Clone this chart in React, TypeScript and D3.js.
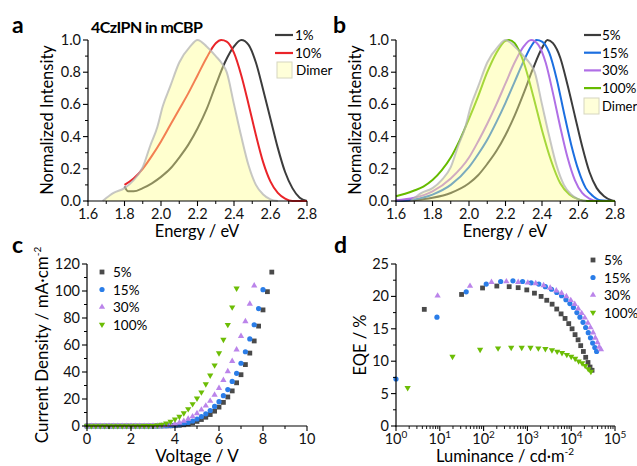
import React from "react";
import * as d3 from "d3";

const FONT = "Lato, 'Open Sans', sans-serif";

// ---------- Panel a: PL spectra (4CzIPN in mCBP) ----------
const dimerE = [1.68, 1.74, 1.8, 1.85, 1.9, 1.94, 1.98, 2.01, 2.05, 2.1, 2.16, 2.2, 2.25, 2.3, 2.33, 2.36, 2.4, 2.44, 2.48, 2.52, 2.56, 2.6, 2.64];
const dimerI = [0, 0.05, 0.08, 0.13, 0.21, 0.34, 0.46, 0.59, 0.71, 0.86, 0.96, 1.0, 0.96, 0.9, 0.86, 0.8, 0.6, 0.4, 0.22, 0.1, 0.04, 0.01, 0];

const a1E = [1.8, 1.82, 1.85, 1.9, 1.95, 2.0, 2.05, 2.1, 2.15, 2.2, 2.25, 2.3, 2.35, 2.4, 2.44, 2.48, 2.52, 2.56, 2.6, 2.64, 2.68, 2.72, 2.76, 2.8];
const a1I = [0.09, 0.06, 0.06, 0.08, 0.11, 0.15, 0.2, 0.27, 0.35, 0.45, 0.57, 0.72, 0.86, 0.96, 1.0, 0.97, 0.86, 0.69, 0.51, 0.33, 0.18, 0.08, 0.02, 0.0];
const a10E = [1.8, 1.85, 1.9, 1.95, 2.0, 2.05, 2.1, 2.15, 2.2, 2.25, 2.3, 2.33, 2.36, 2.4, 2.44, 2.48, 2.52, 2.56, 2.6, 2.64, 2.68, 2.72, 2.8];
const a10I = [0.1, 0.14, 0.2, 0.28, 0.37, 0.47, 0.57, 0.67, 0.78, 0.89, 0.98, 1.0, 0.99, 0.92, 0.78, 0.6, 0.41, 0.24, 0.12, 0.05, 0.015, 0.0, 0.0];

// ---------- Panel b: PL spectra vs doping ----------
const b5E = [1.6, 1.7, 1.8, 1.9, 2.0, 2.05, 2.1, 2.15, 2.2, 2.25, 2.3, 2.35, 2.4, 2.43, 2.46, 2.5, 2.54, 2.58, 2.62, 2.66, 2.7, 2.74, 2.78, 2.8];
const b5I = [0, 0.005, 0.02, 0.05, 0.11, 0.16, 0.23, 0.31, 0.41, 0.53, 0.67, 0.82, 0.95, 1.0, 0.98, 0.89, 0.72, 0.53, 0.34, 0.18, 0.08, 0.03, 0.005, 0];
const b15E = [1.6, 1.7, 1.8, 1.9, 2.0, 2.05, 2.1, 2.15, 2.2, 2.25, 2.3, 2.34, 2.37, 2.4, 2.44, 2.48, 2.52, 2.56, 2.6, 2.64, 2.68, 2.72, 2.8];
const b15I = [0, 0.01, 0.04, 0.1, 0.21, 0.29, 0.38, 0.49, 0.61, 0.74, 0.87, 0.96, 1.0, 0.99, 0.92, 0.76, 0.55, 0.35, 0.19, 0.08, 0.03, 0.005, 0];
const b30E = [1.6, 1.7, 1.8, 1.9, 2.0, 2.05, 2.1, 2.15, 2.2, 2.25, 2.3, 2.34, 2.38, 2.42, 2.46, 2.5, 2.54, 2.58, 2.62, 2.66, 2.7, 2.8];
const b30I = [0.005, 0.02, 0.06, 0.14, 0.27, 0.37, 0.48, 0.6, 0.73, 0.86, 0.96, 1.0, 0.97, 0.86, 0.67, 0.46, 0.27, 0.13, 0.05, 0.015, 0, 0];
const b100E = [1.6, 1.65, 1.7, 1.75, 1.8, 1.85, 1.9, 1.95, 2.0, 2.05, 2.1, 2.15, 2.2, 2.22, 2.25, 2.3, 2.35, 2.4, 2.45, 2.5, 2.55, 2.6, 2.65, 2.8];
const b100I = [0.03, 0.045, 0.065, 0.09, 0.13, 0.19, 0.27, 0.38, 0.51, 0.65, 0.8, 0.92, 0.995, 1.0, 0.98, 0.86, 0.66, 0.44, 0.25, 0.11, 0.04, 0.01, 0, 0];

// ---------- Panel c: J-V ----------
const v5 = [0, 0.2, 0.4, 0.6, 0.8, 1, 1.2, 1.4, 1.6, 1.8, 2, 2.2, 2.4, 2.6, 2.8, 3, 3.2, 3.4, 3.6, 3.8, 4, 4.2, 4.4, 4.6, 4.8, 5, 5.2, 5.4, 5.6, 5.8, 6, 6.2, 6.4, 6.6, 6.8, 7, 7.2, 7.4, 7.6, 7.8, 8, 8.2, 8.4];
const j5 = [0, 0, 0, 0, 0, 0, 0, 0, 0, 0, 0, 0, 0, 0, 0, 0, 0.02, 0.05, 0.1, 0.15, 0.25, 0.5, 0.9, 1.5, 2.3, 3.4, 4.8, 6.5, 8.5, 11, 14, 17.5, 21.5, 26, 32, 38, 45.5, 54, 63, 74, 86, 99.5, 114];
const v15 = [0, 0.2, 0.4, 0.6, 0.8, 1, 1.2, 1.4, 1.6, 1.8, 2, 2.2, 2.4, 2.6, 2.8, 3, 3.2, 3.4, 3.6, 3.8, 4, 4.2, 4.4, 4.6, 4.8, 5, 5.2, 5.4, 5.6, 5.8, 6, 6.2, 6.4, 6.6, 6.8, 7, 7.2, 7.4, 7.6, 7.8, 8];
const j15 = [0, 0, 0, 0, 0, 0, 0, 0, 0, 0, 0, 0, 0, 0, 0, 0, 0.05, 0.1, 0.18, 0.3, 0.6, 1.0, 1.7, 2.6, 3.7, 5.2, 7, 9, 11.5, 14.5, 18, 22.5, 27, 33, 39, 46.5, 55, 64.5, 75, 87, 101];
const v30 = [0, 0.2, 0.4, 0.6, 0.8, 1, 1.2, 1.4, 1.6, 1.8, 2, 2.2, 2.4, 2.6, 2.8, 3, 3.2, 3.4, 3.6, 3.8, 4, 4.2, 4.4, 4.6, 4.8, 5, 5.2, 5.4, 5.6, 5.8, 6, 6.2, 6.4, 6.6, 6.8, 7, 7.2, 7.4, 7.6];
const j30 = [0, 0, 0, 0, 0, 0, 0, 0, 0, 0, 0, 0, 0, 0, 0, 0.05, 0.12, 0.25, 0.5, 0.9, 1.6, 2.5, 3.7, 5.2, 7, 9.3, 12, 15, 18.5, 23, 28, 34, 40.5, 48, 56.5, 66.5, 77.5, 90.5, 104];
const v100 = [0, 0.2, 0.4, 0.6, 0.8, 1, 1.2, 1.4, 1.6, 1.8, 2, 2.2, 2.4, 2.6, 2.8, 3, 3.2, 3.4, 3.6, 3.8, 4, 4.2, 4.4, 4.6, 4.8, 5, 5.2, 5.4, 5.6, 5.8, 6, 6.2, 6.4, 6.6, 6.8];
const j100 = [0, 0, 0, 0, 0, 0, 0, 0, 0, 0, 0, 0, 0.02, 0.05, 0.1, 0.2, 0.5, 1.1, 2, 3.3, 5, 7, 9.5, 12.6, 16.3, 20.5, 25, 31, 37.5, 45, 54, 64, 75, 88, 102];

// ---------- Panel d: EQE vs luminance (log10 L, EQE %) ----------
const d5L = [0.646, 1.497, 1.976, 2.302, 2.584, 2.789, 2.986, 3.161, 3.313, 3.442, 3.564, 3.67, 3.769, 3.86, 3.944, 4.02, 4.088, 4.157, 4.217, 4.278, 4.331, 4.384, 4.43, 4.476];
const d5E = [18.0, 20.3, 21.3, 21.6, 21.5, 21.35, 21.0, 20.5, 20.0, 19.4, 18.8, 18.05, 17.3, 16.6, 15.8, 15.0, 14.1, 13.3, 12.4, 11.5, 10.6, 9.8, 9.1, 8.6];
const d15L = [0.0, 0.935, 1.603, 2.06, 2.39, 2.67, 2.89, 3.085, 3.26, 3.41, 3.55, 3.67, 3.78, 3.88, 3.97, 4.05, 4.13, 4.2, 4.27, 4.33, 4.39, 4.44, 4.49, 4.54, 4.58];
const d15E = [7.25, 16.8, 20.7, 21.9, 22.3, 22.4, 22.3, 22.1, 21.9, 21.5, 21.1, 20.6, 20.1, 19.5, 18.9, 18.3, 17.5, 16.8, 16.0, 15.2, 14.4, 13.6, 12.8, 12.1, 11.5];
const d30L = [0.95, 1.69, 2.18, 2.52, 2.79, 3.01, 3.19, 3.37, 3.52, 3.66, 3.78, 3.89, 3.99, 4.08, 4.16, 4.24, 4.31, 4.38, 4.44, 4.5, 4.55, 4.6, 4.64, 4.68];
const d30E = [20.1, 21.6, 22.2, 22.3, 22.2, 22.1, 22.0, 21.7, 21.3, 20.9, 20.5, 20.0, 19.4, 18.8, 18.1, 17.4, 16.7, 15.9, 15.2, 14.4, 13.6, 12.9, 12.2, 11.8];
const d100L = [0.266, 1.29, 1.92, 2.33, 2.63, 2.87, 3.07, 3.25, 3.41, 3.56, 3.68, 3.79, 3.9, 4.0, 4.09, 4.17, 4.25, 4.32, 4.39, 4.45];
const d100E = [5.9, 10.7, 11.8, 12.0, 12.1, 12.1, 12.1, 12.0, 11.9, 11.7, 11.5, 11.3, 11.0, 10.7, 10.4, 10.0, 9.7, 9.3, 8.8, 8.4];

// ---------- ticks / labels ----------
const specXTicks = [1.6, 1.8, 2.0, 2.2, 2.4, 2.6, 2.8];
const specXMinor = [1.7, 1.9, 2.1, 2.3, 2.5, 2.7];
const specYTicks = [0, 0.2, 0.4, 0.6, 0.8, 1.0];
const specYMinor = [0.1, 0.3, 0.5, 0.7, 0.9];
const jvXTicks = [0, 2, 4, 6, 8, 10];
const jvXMinor = [1, 3, 5, 7, 9];
const jvYTicks = [0, 20, 40, 60, 80, 100, 120];
const jvYMinor = [10, 30, 50, 70, 90, 110];
const eqeYTicks = [0, 5, 10, 15, 20, 25];
const eqeYMinor = [2.5, 7.5, 12.5, 17.5, 22.5];
const eqeXExp = [0, 1, 2, 3, 4, 5];
const eqeXMinorMult = [2, 3, 4, 5, 6, 7, 8, 9];

const C_GRAY = "#3c3c3c";
const C_RED = "#ea2429";
const C_BLUE = "#1c6fe0";
const C_PURPLE = "#b06fe6";
const C_GREEN = "#66bb00";
const C_MGRAY = "#4a4a4a";
const C_MBLUE = "#2a7de8";
const C_MPURPLE = "#bb84ea";
const C_MGREEN = "#6cbd05";

const TICK_FS = 14.5;
const TITLE_FS = 16.5;

type Scale = any;

function YAxis({ scale, x, majors, minors, fmt }: { scale: Scale; x: number; majors: number[]; minors: number[]; fmt: (v: number) => string }) {
  const [d0, d1] = scale.domain();
  return (
    <g>
      <line x1={x} x2={x} y1={scale(d0) + 0.5} y2={scale(d1)} stroke="#000" strokeWidth={1.2} />
      {majors.map((v) => (
        <line key={"M" + v} x1={x - 5} x2={x} y1={scale(v)} y2={scale(v)} stroke="#000" strokeWidth={1.1} />
      ))}
      {minors.map((v) => (
        <line key={"m" + v} x1={x - 3} x2={x} y1={scale(v)} y2={scale(v)} stroke="#000" strokeWidth={1} />
      ))}
      {majors.map((v) => (
        <text key={"t" + v} x={x - 7} y={scale(v) + 5} textAnchor="end" fontSize={TICK_FS} fill="#111">
          {fmt(v)}
        </text>
      ))}
    </g>
  );
}

function XAxis({ scale, y, majors, minors, fmt }: { scale: Scale; y: number; majors: number[]; minors: number[]; fmt: (v: number) => string }) {
  const [r0, r1] = scale.range();
  return (
    <g>
      <line x1={r0 - 0.6} x2={r1} y1={y} y2={y} stroke="#000" strokeWidth={1.2} />
      {majors.map((v) => (
        <line key={"M" + v} x1={scale(v)} x2={scale(v)} y1={y} y2={y + 5} stroke="#000" strokeWidth={1.1} />
      ))}
      {minors.map((v) => (
        <line key={"m" + v} x1={scale(v)} x2={scale(v)} y1={y} y2={y + 3} stroke="#000" strokeWidth={1} />
      ))}
      {majors.map((v) => (
        <text key={"t" + v} x={scale(v)} y={y + 18} textAnchor="middle" fontSize={TICK_FS} fill="#111">
          {fmt(v)}
        </text>
      ))}
    </g>
  );
}

function Spectrum({ es, is, sx, sy, color }: any) {
  const pts: [number, number][] = es.map((e: number, i: number) => [e, is[i]]);
  const line = d3
    .line<[number, number]>()
    .x((d) => sx(d[0]))
    .y((d) => sy(d[1]))
    .curve(d3.curveMonotoneX);
  return <path d={line(pts) || ""} fill="none" stroke={color} strokeWidth={2} />;
}

function Dimer({ sx, sy }: any) {
  const pts: [number, number][] = dimerE.map((e, i) => [e, dimerI[i]]);
  const area = d3
    .area<[number, number]>()
    .x((d) => sx(d[0]))
    .y0(sy(0))
    .y1((d) => sy(d[1]))
    .curve(d3.curveMonotoneX);
  const line = d3
    .line<[number, number]>()
    .x((d) => sx(d[0]))
    .y((d) => sy(d[1]))
    .curve(d3.curveMonotoneX);
  return (
    <g>
      <path d={area(pts) || ""} fill="#ffff8c" fillOpacity={0.42} stroke="none" />
      <path d={line(pts) || ""} fill="none" stroke="#b4b4b4" strokeWidth={2} strokeOpacity={0.75} />
    </g>
  );
}

function Marker({ kind, x, y, color }: { kind: string; x: number; y: number; color: string }) {
  if (kind === "square") return <rect x={x - 2.4} y={y - 2.4} width={4.8} height={4.8} fill={color} />;
  if (kind === "circle") return <circle cx={x} cy={y} r={2.6} fill={color} />;
  const p = d3.symbol().type(d3.symbolTriangle).size(17)() || "";
  return <path d={p} transform={`translate(${x},${y})${kind === "down" ? " rotate(180)" : ""}`} fill={color} />;
}

function Scatter({ xs, ys, sx, sy, kind, color }: any) {
  return (
    <g>
      {xs.map((v: number, i: number) => (
        <Marker key={i} kind={kind} x={sx(v)} y={sy(ys[i])} color={color} />
      ))}
    </g>
  );
}

export default function App() {
  const ax = d3.scaleLinear().domain([1.6, 2.8]).range([88, 307]);
  const ay = d3.scaleLinear().domain([0, 1]).range([201, 40]);
  const bx = d3.scaleLinear().domain([1.6, 2.8]).range([396, 615]);
  const by = d3.scaleLinear().domain([0, 1]).range([201, 40]);
  const cx = d3.scaleLinear().domain([0, 10]).range([87, 307]);
  const cy = d3.scaleLinear().domain([0, 120]).range([426, 264]);
  const dx = d3.scaleLog().domain([1, 1e5]).range([396, 615]);
  const dy = d3.scaleLinear().domain([0, 25]).range([426, 264]);
  const dxl = (l: number) => dx(Math.pow(10, l));

  const f1 = (v: number) => v.toFixed(1);
  const f0 = (v: number) => String(v);

  const eqeMinor: number[] = [];
  eqeXExp.slice(0, 5).forEach((e) => eqeXMinorMult.forEach((m) => eqeMinor.push(m * Math.pow(10, e))));

  const legA = [
    { label: "1%", color: C_GRAY },
    { label: "10%", color: C_RED },
  ];
  const legB = [
    { label: "5%", color: C_GRAY },
    { label: "15%", color: C_BLUE },
    { label: "30%", color: C_PURPLE },
    { label: "100%", color: C_GREEN },
  ];
  const legCD = [
    { label: "5%", kind: "square", color: C_MGRAY },
    { label: "15%", kind: "circle", color: C_MBLUE },
    { label: "30%", kind: "up", color: C_MPURPLE },
    { label: "100%", kind: "down", color: C_MGREEN },
  ];

  return (
    <svg width={637} height={466} style={{ position: "absolute", left: 0, top: 0, background: "#fff" }} fontFamily={FONT}>
      <rect x={0} y={0} width={637} height={466} fill="#fff" />

      {/* ---------- Panel a ---------- */}
      <Spectrum es={a1E} is={a1I} sx={ax} sy={ay} color={C_GRAY} />
      <Spectrum es={a10E} is={a10I} sx={ax} sy={ay} color={C_RED} />
      <Dimer sx={ax} sy={ay} />
      <YAxis scale={ay} x={88} majors={specYTicks} minors={specYMinor} fmt={f1} />
      <XAxis scale={ax} y={201} majors={specXTicks} minors={specXMinor} fmt={f1} />
      <text x={12} y={33} fontSize={23} fontWeight="bold">a</text>
      <text x={91} y={33} fontSize={16} fontWeight="bold" textLength={112} lengthAdjust="spacing">4CzIPN in mCBP</text>
      <text transform="translate(53,120) rotate(-90)" textAnchor="middle" fontSize={TITLE_FS}>Normalized Intensity</text>
      <text x={197} y={237} textAnchor="middle" fontSize={TITLE_FS}>Energy / eV</text>
      {legA.map((l, i) => (
        <g key={l.label}>
          <line x1={275} x2={293} y1={35 + i * 18} y2={35 + i * 18} stroke={l.color} strokeWidth={2.2} />
          <text x={295} y={40 + i * 18} fontSize={13.5}>{l.label}</text>
        </g>
      ))}
      <rect x={277} y={62} width={15} height={16} fill="#ffffd9" stroke="#d6d6c0" strokeWidth={1} />
      <text x={296} y={75} fontSize={13.5}>Dimer</text>

      {/* ---------- Panel b ---------- */}
      <Spectrum es={b5E} is={b5I} sx={bx} sy={by} color={C_GRAY} />
      <Spectrum es={b15E} is={b15I} sx={bx} sy={by} color={C_BLUE} />
      <Spectrum es={b30E} is={b30I} sx={bx} sy={by} color={C_PURPLE} />
      <Spectrum es={b100E} is={b100I} sx={bx} sy={by} color={C_GREEN} />
      <Dimer sx={bx} sy={by} />
      <YAxis scale={by} x={396} majors={specYTicks} minors={specYMinor} fmt={f1} />
      <XAxis scale={bx} y={201} majors={specXTicks} minors={specXMinor} fmt={f1} />
      <text x={333} y={33} fontSize={23} fontWeight="bold">b</text>
      <text transform="translate(361,120) rotate(-90)" textAnchor="middle" fontSize={TITLE_FS}>Normalized Intensity</text>
      <text x={505} y={237} textAnchor="middle" fontSize={TITLE_FS}>Energy / eV</text>
      {legB.map((l, i) => (
        <g key={l.label}>
          <line x1={584} x2={601} y1={35 + i * 17.7} y2={35 + i * 17.7} stroke={l.color} strokeWidth={2.2} />
          <text x={602} y={40 + i * 17.7} fontSize={13.5}>{l.label}</text>
        </g>
      ))}
      <rect x={584} y={98} width={15} height={16} fill="#ffffd9" stroke="#d6d6c0" strokeWidth={1} />
      <text x={602} y={111} fontSize={13}>Dimer</text>

      {/* ---------- Panel c ---------- */}
      <Scatter xs={v5} ys={j5} sx={cx} sy={cy} kind="square" color={C_MGRAY} />
      <Scatter xs={v15} ys={j15} sx={cx} sy={cy} kind="circle" color={C_MBLUE} />
      <Scatter xs={v30} ys={j30} sx={cx} sy={cy} kind="up" color={C_MPURPLE} />
      <Scatter xs={v100} ys={j100} sx={cx} sy={cy} kind="down" color={C_MGREEN} />
      <YAxis scale={cy} x={87} majors={jvYTicks} minors={jvYMinor} fmt={f0} />
      <XAxis scale={cx} y={426} majors={jvXTicks} minors={jvXMinor} fmt={f0} />
      <text x={12} y={253} fontSize={23} fontWeight="bold">c</text>
      <text transform="translate(48,345) rotate(-90)" textAnchor="middle" fontSize={TITLE_FS + 0.5}>
        Current Density / mA·cm<tspan dy={-7} fontSize={10}>-2</tspan>
      </text>
      <text x={197} y={462} textAnchor="middle" fontSize={TITLE_FS + 0.5}>Voltage / V</text>
      {legCD.map((l, i) => (
        <g key={l.label}>
          <Marker kind={l.kind} x={102} y={272 + i * 17.5} color={l.color} />
          <text x={113} y={277 + i * 17.5} fontSize={13.5}>{l.label}</text>
        </g>
      ))}

      {/* ---------- Panel d ---------- */}
      <Scatter xs={d5L} ys={d5E} sx={dxl} sy={dy} kind="square" color={C_MGRAY} />
      <Scatter xs={d15L} ys={d15E} sx={dxl} sy={dy} kind="circle" color={C_MBLUE} />
      <Scatter xs={d30L} ys={d30E} sx={dxl} sy={dy} kind="up" color={C_MPURPLE} />
      <Scatter xs={d100L} ys={d100E} sx={dxl} sy={dy} kind="down" color={C_MGREEN} />
      <YAxis scale={dy} x={396} majors={eqeYTicks} minors={eqeYMinor} fmt={f0} />
      <g>
        <line x1={395.4} x2={615} y1={426} y2={426} stroke="#000" strokeWidth={1.2} />
        {eqeXExp.map((e) => (
          <line key={"M" + e} x1={dx(Math.pow(10, e))} x2={dx(Math.pow(10, e))} y1={426} y2={431} stroke="#000" strokeWidth={1.1} />
        ))}
        {eqeMinor.map((v, i) => (
          <line key={"m" + i} x1={dx(v)} x2={dx(v)} y1={426} y2={429} stroke="#000" strokeWidth={0.9} />
        ))}
        {eqeXExp.map((e) => (
          <text key={"t" + e} x={dx(Math.pow(10, e))} y={444} textAnchor="middle" fontSize={TICK_FS} fill="#111">
            10<tspan dy={-6} fontSize={10}>{e}</tspan>
          </text>
        ))}
      </g>
      <text x={334} y={253} fontSize={23} fontWeight="bold">d</text>
      <text transform="translate(366,345) rotate(-90)" textAnchor="middle" fontSize={TITLE_FS}>EQE / %</text>
      <text x={505} y={462} textAnchor="middle" fontSize={TITLE_FS}>
        Luminance / cd·m<tspan dy={-7} fontSize={10}>-2</tspan>
      </text>
      {legCD.map((l, i) => (
        <g key={"d" + l.label}>
          <Marker kind={l.kind} x={593} y={260 + i * 17.5} color={l.color} />
          <text x={604} y={265 + i * 17.5} fontSize={13.5}>{l.label}</text>
        </g>
      ))}
    </svg>
  );
}
